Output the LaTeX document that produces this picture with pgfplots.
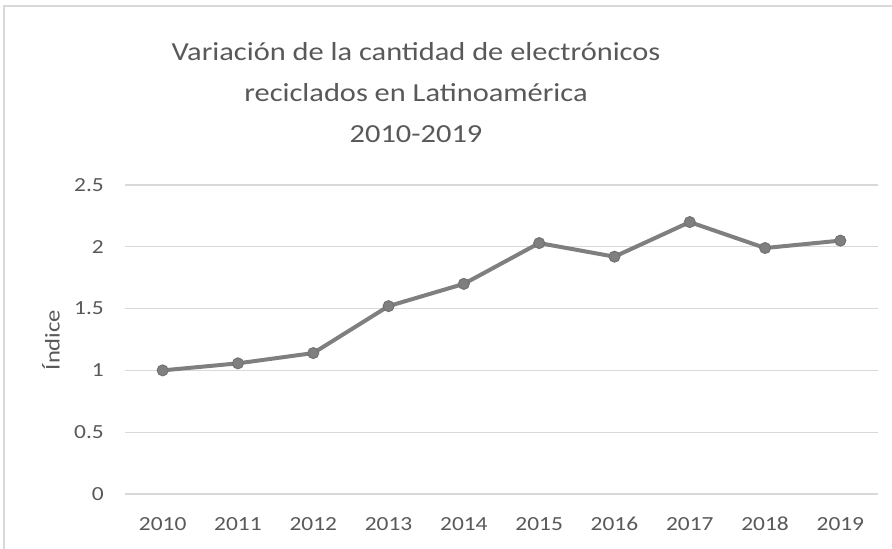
\documentclass[border=0pt]{standalone}
\usepackage{fontspec}
\setmainfont{Carlito}[FakeStretch=1.17]
\usepackage{pgfplots}
\pgfplotsset{compat=1.18}
\definecolor{txt}{HTML}{595959}
\definecolor{ln}{HTML}{7F7F7F}
\definecolor{grd}{HTML}{D9D9D9}
\begin{document}
\begin{tikzpicture}[x=1bp,y=1bp]
\path[use as bounding box, fill=white] (0,0) rectangle (892,549);
\draw[grd, line width=1.5bp] (4,0) -- (4,543) -- (892,543);
\node[txt, align=center, font=\fontsize{26bp}{41bp}\selectfont] at (416,456) {Variación de la cantidad de electrónicos\\reciclados en Latinoamérica\\2010-2019};
\node[txt, rotate=90, font=\fontsize{21bp}{24bp}\selectfont] at (51,209) {Índice};
\begin{axis}[at={(125bp,55bp)}, anchor=south west, width=753bp, height=309bp, scale only axis,
  xmin=-0.5, xmax=9.5, ymin=0, ymax=2.5,
  ytick={0,0.5,1,1.5,2,2.5}, xtick={0,...,9},
  xticklabels={2010,2011,2012,2013,2014,2015,2016,2017,2018,2019},
  axis line style={draw=none}, major tick length=0pt,
  ymajorgrids, grid style={grd, line width=1.2bp},
  /pgf/number format/assume math mode=true,
  /pgf/number format/fixed,
  ticklabel style={txt, font=\fontsize{20bp}{22bp}\selectfont},
  yticklabel style={inner sep=0pt, anchor=east, xshift=-21bp},
  xticklabel style={inner sep=0pt, anchor=base, yshift=-37bp},
  clip=false]
\addplot[ln, line width=4bp, mark=*, mark size=5.5bp, mark options={fill=ln, draw=ln!90!black, line width=1bp}] coordinates {
(0,1.00) (1,1.057) (2,1.14) (3,1.52) (4,1.70) (5,2.03) (6,1.92) (7,2.20) (8,1.99) (9,2.05)};
\end{axis}
\end{tikzpicture}
\end{document}
